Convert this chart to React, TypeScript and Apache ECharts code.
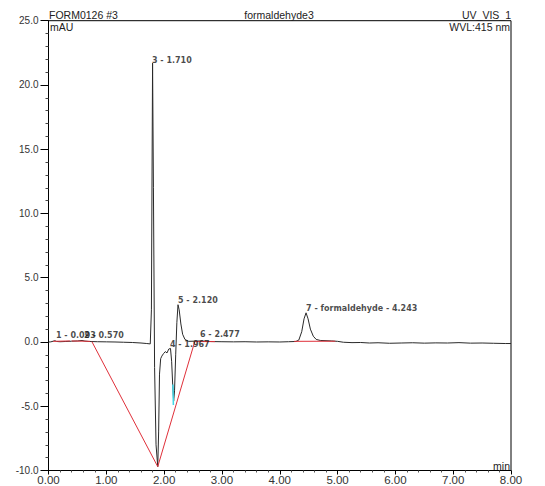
import React, { useEffect, useRef } from "react";
import * as echarts from "echarts";

// chromatogram trace (time in min, signal in mAU)
const traceTime = [
  0.0, 0.04, 0.08, 0.11, 0.14, 0.2, 0.3, 0.4, 0.5, 0.58, 0.63, 0.7, 0.85, 1.0, 1.15, 1.3, 1.45, 1.6, 1.7, 1.76,
  1.78, 1.8, 1.815, 1.835, 1.86, 1.89, 1.905, 1.92, 1.94, 1.96, 1.99, 2.02, 2.05, 2.08, 2.11, 2.13, 2.15, 2.165,
  2.18, 2.2, 2.22, 2.24, 2.26, 2.29, 2.32, 2.36, 2.42, 2.5, 2.6, 2.7, 2.85, 3.0, 3.2, 3.4, 3.6, 3.8, 4.0, 4.15,
  4.28, 4.33, 4.38, 4.42, 4.455, 4.49, 4.53, 4.58, 4.63, 4.7, 4.8, 4.9, 5.0, 5.1, 5.25, 5.4, 5.55, 5.7, 5.9, 6.1,
  6.3, 6.5, 6.7, 6.9, 7.1, 7.3, 7.5, 7.7, 7.9, 8.0,
];
const traceSignal = [
  0.0, 0.01, 0.06, 0.1, 0.04, 0.02, 0.04, 0.06, 0.08, 0.12, 0.07, 0.04, 0.02, 0.01, 0.0, -0.02, -0.04, -0.08, -0.12, -0.15,
  2.5, 21.7, 12.0, -2.0, -8.0, -9.7, -7.0, -2.5, -1.3, -1.1, -0.9, -0.75, -0.85, -0.55, -0.5, -1.5, -3.5, -4.6,
  -3.8, -1.0, 1.5, 2.9, 2.5, 1.4, 0.6, 0.2, 0.05, 0.06, 0.08, 0.05, 0.03, 0.02, 0.01, 0.02, 0.0, 0.01, 0.0, 0.02,
  0.04, 0.15, 0.8, 1.8, 2.27, 1.8, 1.0, 0.45, 0.2, 0.12, 0.1, 0.08, 0.05, -0.02, -0.05, -0.04, -0.08, -0.06, -0.1, -0.08,
  -0.06, -0.09, -0.07, -0.08, -0.05, -0.09, -0.08, -0.1, -0.12, -0.12,
];

// integration baselines (red), each a list of [time, signal]
const baselineSegments: number[][][] = [
  [[0.08, 0.05], [0.37, 0.08]],
  [[0.4, 0.08], [0.72, 0.05]],
  [[0.75, 0.03], [1.89, -9.7], [2.53, 0.03], [2.88, 0.03]],
  [[4.25, 0.05], [4.96, 0.06]],
];

// short highlighted segment on the trace (cyan)
const highlightSegment = [[2.152, -3.3], [2.16, -4.9]];

// peak labels
const peakLabels = [
  "1 - 0.093",
  "2 - 0.570",
  "3 - 1.710",
  "4 - 1.967",
  "5 - 2.120",
  "6 - 2.477",
  "7 - formaldehyde - 4.243",
];
const peakLabelTime = [0.13, 0.615, 1.79, 2.1, 2.24, 2.62, 4.455];
const peakLabelSignal = [0.47, 0.47, 21.9, -0.23, 3.26, 0.62, 2.64];

const xMin = 0;
const xMax = 8;
const yMin = -10;
const yMax = 25;

export default function App() {
  const ref = useRef<HTMLDivElement>(null);

  useEffect(() => {
    document.body.style.margin = "0";
    if (!ref.current) return;
    const chart = echarts.init(ref.current, undefined, { renderer: "svg" });
    const font = "Arial, 'Liberation Sans', sans-serif";

    const series: any[] = [
      {
        type: "line",
        data: traceTime.map((t, i) => [t, traceSignal[i]]),
        showSymbol: false,
        lineStyle: { color: "#2a2a2a", width: 1 },
        z: 3,
      },
    ];
    baselineSegments.forEach((seg) => {
      series.push({
        type: "line",
        data: seg,
        showSymbol: false,
        lineStyle: { color: "#e0303a", width: 1 },
        z: 4,
      });
    });
    series.push({
      type: "line",
      data: highlightSegment,
      showSymbol: false,
      lineStyle: { color: "#40d8e8", width: 1.5 },
      z: 5,
    });
    series.push({
      type: "scatter",
      symbolSize: 0,
      data: peakLabels.map((name, i) => ({ name, value: [peakLabelTime[i], peakLabelSignal[i]] })),
      label: {
        show: true,
        position: "right",
        distance: 0,
        formatter: (p: any) => p.name,
        fontFamily: "'DejaVu Sans', sans-serif",
        fontSize: 8,
        fontWeight: "bold",
        color: "#1a1a1a",
      },
      z: 6,
    });

    chart.setOption({
      animation: false,
      backgroundColor: "#ffffff",
      grid: {
        left: 48.5,
        right: 34,
        top: 20.7,
        bottom: 14.3,
        show: true,
        borderColor: "#000",
        borderWidth: 1,
        backgroundColor: "transparent",
      },
      xAxis: {
        type: "value",
        min: xMin,
        max: xMax,
        interval: 1,
        axisLine: { show: true, onZero: false, lineStyle: { color: "#000", width: 1 } },
        axisTick: { show: true, length: 4, lineStyle: { color: "#000" } },
        minorTick: { show: true, splitNumber: 5, length: 2, lineStyle: { color: "#555" } },
        splitLine: { show: false },
        axisLabel: {
          formatter: (v: number) => v.toFixed(2),
          fontFamily: font,
          fontSize: 11.5,
          lineHeight: 11,
          color: "#333",
          margin: 4,
          showMaxLabel: true,
          showMinLabel: true,
        },
      },
      yAxis: {
        type: "value",
        min: yMin,
        max: yMax,
        interval: 5,
        axisLine: { show: true, onZero: false, lineStyle: { color: "#000", width: 1 } },
        axisTick: { show: true, length: 8, lineStyle: { color: "#000" } },
        minorTick: { show: true, splitNumber: 5, length: 3, lineStyle: { color: "#444" } },
        splitLine: { show: false },
        axisLabel: {
          formatter: (v: number) => v.toFixed(1),
          fontFamily: font,
          fontSize: 10,
          lineHeight: 9,
          color: "#333",
          margin: 10,
        },
      },
      graphic: [
        {
          type: "text",
          left: 49,
          top: 9,
          style: { text: "FORM0126 #3", fontFamily: font, fontSize: 10.5, fill: "#222" },
        },
        {
          type: "text",
          x: 279,
          y: 9,
          style: { text: "formaldehyde3", fontFamily: font, fontSize: 10.5, fill: "#222", textAlign: "center" },
        },
        {
          type: "text",
          x: 511,
          y: 9,
          style: { text: "UV_VIS_1", fontFamily: font, fontSize: 10.5, fill: "#222", textAlign: "right" },
        },
        {
          type: "text",
          left: 50,
          top: 21,
          style: { text: "mAU", fontFamily: font, fontSize: 10.5, fill: "#222" },
        },
        {
          type: "text",
          x: 510,
          y: 21,
          style: { text: "WVL:415 nm", fontFamily: font, fontSize: 10.5, fill: "#222", textAlign: "right" },
        },
        {
          type: "text",
          x: 510,
          y: 460,
          style: { text: "min", fontFamily: font, fontSize: 10.5, fill: "#222", textAlign: "right" },
        },
      ],
      series,
    });

    return () => chart.dispose();
  }, []);

  return <div ref={ref} style={{ width: 545, height: 486 }} />;
}
